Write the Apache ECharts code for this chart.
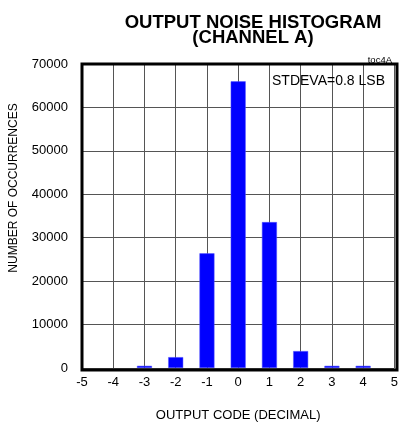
<!DOCTYPE html>
<html><head><meta charset="utf-8">
<script src="https://cdn.jsdelivr.net/npm/echarts@6/dist/echarts.min.js"></script>
<style>html,body{margin:0;padding:0;background:#fff}#c{width:401px;height:427px}</style>
</head><body><div id="c"></div>
<script>
const codes = [-3, -2, -1, 0, 1, 2, 3, 4];
const counts = [500, 2500, 26400, 66000, 33600, 3900, 500, 500];
const xTicks = [-5, -4, -3, -2, -1, 0, 1, 2, 3, 4, 5];
const yTicks = [0, 10000, 20000, 30000, 40000, 50000, 60000, 70000];

const chart = echarts.init(document.getElementById('c'), null, {renderer: 'canvas'});
const font = 'Liberation Sans, Arial, sans-serif';
chart.setOption({
  animation: false,
  textStyle: {fontFamily: font},
  title: [
    {text: 'OUTPUT NOISE HISTOGRAM\n(CHANNEL A)', left: 248, top: 10, textAlign: 'center',
     textStyle: {fontFamily: font, fontSize: 18.5, fontWeight: 'bold', color: '#000', lineHeight: 15.5}},
    {text: 'toc4A', right: 4, top: 50, textStyle: {fontFamily: font, fontSize: 9.5, fontWeight: 'normal', color: '#000'}}
  ],
  grid: {left: 82, right: 4, top: 64, bottom: 57, containLabel: false},
  xAxis: {
    type: 'value', min: -5, max: 5, interval: 1,
    name: 'OUTPUT CODE (DECIMAL)', nameLocation: 'middle', nameGap: 41,
    nameTextStyle: {fontSize: 13, color: '#000', fontFamily: font},
    axisLine: {show: false},
    axisTick: {show: false},
    axisLabel: {color: '#000', fontSize: 13, margin: 8, fontFamily: font,
      formatter: v => xTicks.includes(v) ? String(v) : ''},
    splitLine: {show: true, lineStyle: {color: '#555', width: 1}}
  },
  yAxis: {
    type: 'value', min: 0, max: 70000, interval: 10000,
    axisLine: {show: false},
    axisTick: {show: false},
    axisLabel: {color: '#000', fontSize: 13, margin: 14, fontFamily: font,
      formatter: v => yTicks.includes(v) ? String(v) : ''},
    splitLine: {show: true, lineStyle: {color: '#555', width: 1}}
  },
  series: [{
    type: 'bar', barWidth: 15,
    data: codes.map((c, i) => [c, counts[i]]),
    itemStyle: {color: '#0000FF', borderColor: '#5555FF', borderWidth: 0.5},
    z: 3
  }],
  graphic: [
    {type: 'rect', shape: {x: 82, y: 64, width: 315, height: 306}, style: {fill: 'none', stroke: '#000', lineWidth: 3}, z: 10},
    {type: 'text', left: 272, top: 74, style: {text: 'STDEVA=0.8 LSB', font: '14px ' + font, fill: '#000'}, z: 11},
    {type: 'text', x: 8, y: 188, rotation: Math.PI / 2,
     style: {text: 'NUMBER OF OCCURRENCES', font: '12px ' + font, fill: '#000', align: 'center', verticalAlign: 'top'}, z: 11}
  ]
});
</script></body></html>
